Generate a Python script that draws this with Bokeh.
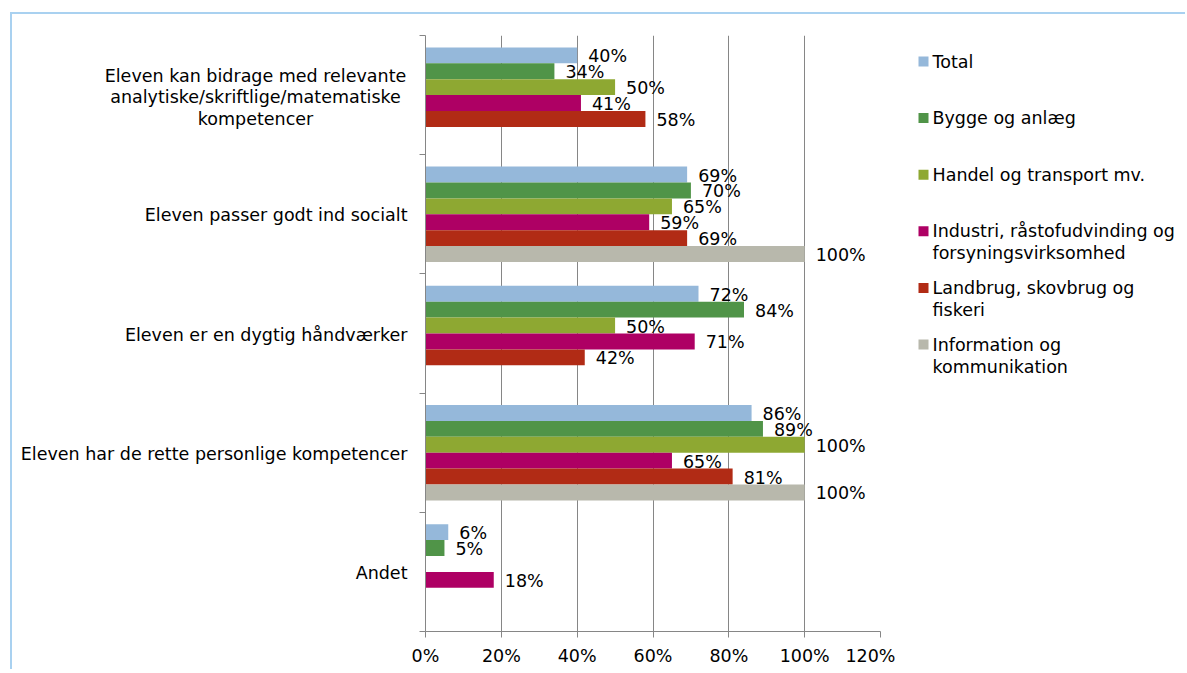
import numpy as np
from bokeh.plotting import figure
from bokeh.models import ColumnDataSource, Range1d, FixedTicker, PrintfTickFormatter
from bokeh.layouts import row
from bokeh.embed import file_html
from bokeh.resources import INLINE
from bokeh.core.properties import value

# ---------------- data ----------------
categories = [
    "Eleven kan bidrage med relevante analytiske/skriftlige/matematiske kompetencer",
    "Eleven passer godt ind socialt",
    "Eleven er en dygtig håndværker",
    "Eleven har de rette personlige kompetencer",
    "Andet",
]
category_lines = [
    ["Eleven kan bidrage med relevante", "analytiske/skriftlige/matematiske", "kompetencer"],
    ["Eleven passer godt ind socialt"],
    ["Eleven er en dygtig håndværker"],
    ["Eleven har de rette personlige kompetencer"],
    ["Andet"],
]
series = [
    "Total",
    "Bygge og anlæg",
    "Handel og transport mv.",
    "Industri, råstofudvinding og forsyningsvirksomhed",
    "Landbrug, skovbrug og fiskeri",
    "Information og kommunikation",
]
legend_lines = [
    ["Total"],
    ["Bygge og anlæg"],
    ["Handel og transport mv."],
    ["Industri, råstofudvinding og", "forsyningsvirksomhed"],
    ["Landbrug, skovbrug og", "fiskeri"],
    ["Information og", "kommunikation"],
]
colors = ["#95B8DA", "#509448", "#8EA832", "#AE0064", "#B12B15", "#B8B8AC"]

total       = [40, 69, 72, 86, 6]
bygge       = [34, 70, 84, 89, 5]
handel      = [50, 65, 50, 100, None]
industri    = [41, 59, 71, 65, 18]
landbrug    = [58, 69, 42, 81, None]
information = [None, 100, None, 100, None]

x_ticks = [0, 20, 40, 60, 80, 100, 120]

# ---------------- style / layout ----------------
FONT = "DejaVu Sans"
FS = "17.5px"
GRAY = "#868686"
TXT = "#000000"

TOP, BOTTOM = 21, 38          # borders around the plotting frame
H = 655                       # figure height
X0 = 12                       # page x where the content starts
LEFT_W = 397                  # label panel width
MAIN_W = 486                  # main plot width
LEG_W = 290                   # legend panel width
FRAME_TOP = 14 + TOP
FRAME_BOT = 14 + H - BOTTOM

values = [total, bygge, handel, industri, landbrug, information]
n_ser = len(series)
group = 0.8
h = group / n_ser

ys, vs, cs, labs = [], [], [], []
for i in range(len(categories)):
    for j in range(n_ser):
        v = values[j][i]
        if v is None:
            continue
        ys.append(i + (1 - group) / 2 + (j + 0.5) * h)
        vs.append(v)
        cs.append(colors[j])
        labs.append(f"{v}%")
src = ColumnDataSource(dict(y=ys, v=vs, color=cs, label=labs))

yr = Range1d(len(categories), 0)

# ---------------- main plot ----------------
p = figure(width=MAIN_W, height=H, output_backend="svg", toolbar_location=None,
           x_range=Range1d(0, 120), y_range=yr,
           min_border_left=16, min_border_right=15, min_border_top=TOP, min_border_bottom=BOTTOM)
p.outline_line_color = None

p.hbar(y="y", left=0, right="v", height=h, fill_color="color", line_color=None, source=src)
p.text(x="v", y="y", text="label", x_offset=11, y_offset=1, text_baseline="middle",
       text_align="left", text_font=value(FONT), text_font_size=FS, text_color=TXT, source=src)

p.xaxis.ticker = FixedTicker(ticks=x_ticks)
p.xaxis.formatter = PrintfTickFormatter(format="%d%%")
p.xaxis.axis_line_color = GRAY
p.xaxis.major_tick_line_color = GRAY
p.xaxis.major_tick_out = 6
p.xaxis.major_tick_in = 0
p.xaxis.minor_tick_line_color = None
p.xaxis.major_label_standoff = 8
p.xaxis.major_label_text_font = FONT
p.xaxis.major_label_text_font_size = FS
p.xaxis.major_label_text_color = TXT
p.xgrid.ticker = FixedTicker(ticks=x_ticks)
p.xgrid.grid_line_color = GRAY
p.ygrid.grid_line_color = None

centers = [i + 0.5 for i in range(len(categories))]
bounds = list(range(len(categories) + 1))
p.yaxis.ticker = FixedTicker(ticks=centers, minor_ticks=bounds)
p.yaxis.major_label_overrides = {c: "" for c in centers}
p.yaxis.major_tick_line_color = None
p.yaxis.minor_tick_line_color = GRAY
p.yaxis.minor_tick_out = 6
p.yaxis.minor_tick_in = 0
p.yaxis.axis_line_color = GRAY
p.yaxis.major_label_standoff = 0

# ---------------- category label panel ----------------
lab = figure(width=LEFT_W, height=H, output_backend="svg", toolbar_location=None,
             x_range=Range1d(X0, X0 + LEFT_W), y_range=yr,
             min_border_left=0, min_border_right=0, min_border_top=TOP, min_border_bottom=BOTTOM)
lab.axis.visible = False
lab.grid.visible = False
lab.outline_line_color = None

RIGHT_EDGE = 407
LINE = 21.5
sx, sy, st, mx, my, mt, mo = [], [], [], [], [], [], []
for i, lines in enumerate(category_lines):
    if len(lines) == 1:
        sx.append(RIGHT_EDGE); sy.append(i + 0.5); st.append(lines[0])
    else:
        for l, t in enumerate(lines):
            mx.append(RIGHT_EDGE - 152); my.append(i + 0.5); mt.append(t)
            mo.append((l - (len(lines) - 1) / 2) * LINE + 2)
lab.text(x=sx, y=sy, text=st, text_align="right", text_baseline="middle", y_offset=1,
         text_font=value(FONT), text_font_size=FS, text_color=TXT)
lab.text(x="x", y="y", text="t", y_offset="o", text_align="center", text_baseline="middle",
         text_font=value(FONT), text_font_size=FS, text_color=TXT,
         source=ColumnDataSource(dict(x=mx, y=my, t=mt, o=mo)))

# ---------------- legend panel ----------------
LX0 = X0 + LEFT_W + MAIN_W
lg = figure(width=LEG_W, height=H, output_backend="svg", toolbar_location=None,
            x_range=Range1d(LX0, LX0 + LEG_W), y_range=Range1d(FRAME_BOT, FRAME_TOP),
            min_border_left=0, min_border_right=0, min_border_top=TOP, min_border_bottom=BOTTOM)
lg.axis.visible = False
lg.grid.visible = False
lg.outline_line_color = None

step = 56.6
y0 = 61
sq_y = [y0 + k * step for k in range(n_ser)]
lg.rect(x=[923] * n_ser, y=sq_y, width=10, height=10, fill_color=colors, line_color=None)
tx, ty, tt = [], [], []
for k, lines in enumerate(legend_lines):
    for l, t in enumerate(lines):
        tx.append(932)
        ty.append(y0 + k * step + l * 22)
        tt.append(t)
lg.text(x=tx, y=ty, text=tt, text_baseline="middle", text_align="left",
        text_font=value(FONT), text_font_size=FS, text_color=TXT)

layout = row(lab, p, lg, margin=(12, 0, 0, 10),
             styles={"border-top": "2px solid #A9D1F0", "border-left": "2px solid #A9D1F0"})

open("out.html", "w").write(file_html(layout, INLINE))
